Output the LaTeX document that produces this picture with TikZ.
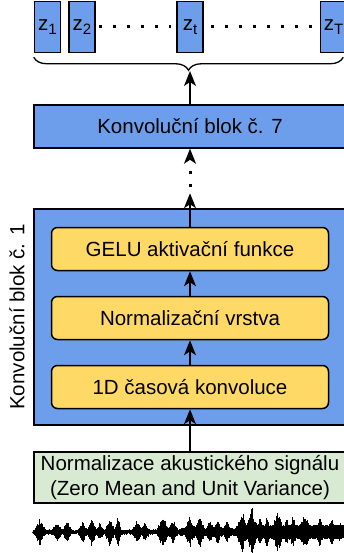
\documentclass[tikz,border=0pt]{standalone}
\usepackage{fontspec}
\setmainfont{Liberation Sans}
\usetikzlibrary{arrows.meta, decorations.pathreplacing}

\newcommand{\zidx}[1]{z\raisebox{-4.5pt}{\fontsize{15}{15}\selectfont #1}}

\begin{document}
\begin{tikzpicture}[
    x=1pt, y=-1pt,
    every node/.style={font=\fontsize{20.5}{25}\selectfont},
    zbox/.style={draw, line width=1.5pt, fill=blockblue, minimum width=26pt, minimum height=51pt, inner sep=0pt},
    block/.style={draw, line width=1.5pt, fill=blockblue, minimum width=312pt, minimum height=43pt, align=center},
    layer/.style={draw, line width=1.5pt, fill=layerorange, rounded corners=6pt, minimum width=277pt, minimum height=43pt},
    arrow/.style={-{Stealth[length=15pt, width=12pt, inset=4pt]}, line width=1.3pt},
    dotsline/.style={line width=3pt, dash pattern=on 3pt off 11pt},
    wave/.style={line width=1pt, black}
]

% Colors
\definecolor{blockblue}{RGB}{109,158,235}
\definecolor{layerorange}{RGB}{255,217,102}
\definecolor{inputgreen}{RGB}{217,234,211}

\clip (0,0) rectangle (344,553);

% Output vectors
\node[zbox] (z1) at (47.5,27) {\zidx{1}};
\node[zbox] (z2) at (82,27) {\zidx{2}};
\node[zbox] (zt) at (190,27) {\zidx{t}};
\node[zbox] (zT) at (333.5,27) {\zidx{T}};

\draw[dotsline, shorten <=3pt, shorten >=5pt] (z2.east) -- (zt.west);
\draw[dotsline, shorten <=7pt, shorten >=8pt] (zt.east) -- (zT.west);

\draw[decorate, decoration={brace, mirror, amplitude=13pt, raise=4pt}, line width=1.3pt]
    (z1.south west) -- ([xshift=-4pt]zT.south east);
\coordinate (bracetip) at (190,71);

% Last block
\node[block] (block7) at (190,126.5) {Konvoluční blok č. 7};

% First block
\node[block, minimum height=216pt] (block1) at (190,317) {};
\node[rotate=90] (block1label) at (17,317) {Konvoluční blok č. 1};

\node[layer] (gelu) at (190,249) {GELU aktivační funkce};
\node[layer] (norm) at (190,318) {Normalizační vrstva};
\node[layer] (conv) at (190,387) {1D časová konvoluce};

% Input
\node[block, fill=inputgreen, minimum height=51pt, inner sep=0pt] (input) at (190,477.5)
{Normalizace akustického signálu\\
(Zero Mean and Unit Variance)};

\coordinate (dotstart) at ([yshift=15pt]block1.north);

% Arrows
\draw[arrow] (input.north) -- (conv.south);
\draw[arrow] (conv.north) -- (norm.south);
\draw[arrow] (norm.north) -- (gelu.south);
\draw[arrow] (gelu.north) -- (dotstart);
\draw[arrow, dash pattern=on 0pt off 100pt] (dotstart) -- (block7.south);
\draw[line width=3pt, dash pattern=on 3pt off 10pt, dash phase=6.5pt, shorten >=16pt] (dotstart) -- (block7.south);
\draw[arrow] (block7.north) -- (bracetip);

% Waveform
\pgfmathsetseed{7}
\foreach \x in {35,35.5,...,343}{
  \pgfmathsetmacro\up{1.2+1.5*rnd+1.5*(\x>180)+3*(\x>238)}
  \pgfmathsetmacro\dn{1.2+1.5*rnd+1.5*(\x>180)+3*(\x>238)}
  \draw[wave] (\x,532-\up) -- (\x,532+\dn);
}
\foreach \c/\w/\h in {40/8/14, 57/7/11, 67/6/12, 83/7/11, 92/6/15, 100/6/9, 110/7/16, 118/4/16, 137/7/12,
    145/7/10, 163/8/18, 173/7/14, 190/8/16, 200/7/18, 210/6/12, 218/7/13, 227/6/12, 242/9/22, 252/9/25,
    260/6/14, 267/7/15, 278/9/22, 287/6/14, 293/7/16, 305/9/20, 320/7/16, 332/6/14, 340/5/10}{
  \foreach \d in {-1,-0.92,...,1}{
    \pgfmathsetmacro\env{\h*(1-abs(\d))^1.3}
    \pgfmathsetmacro\up{\env*(0.6+0.4*rnd)}
    \pgfmathsetmacro\dn{\env*(0.6+0.4*rnd)}
    \draw[wave] (\c+\d*\w,532-\up) -- (\c+\d*\w,532+\dn);
  }
}

\end{tikzpicture}
\end{document}
